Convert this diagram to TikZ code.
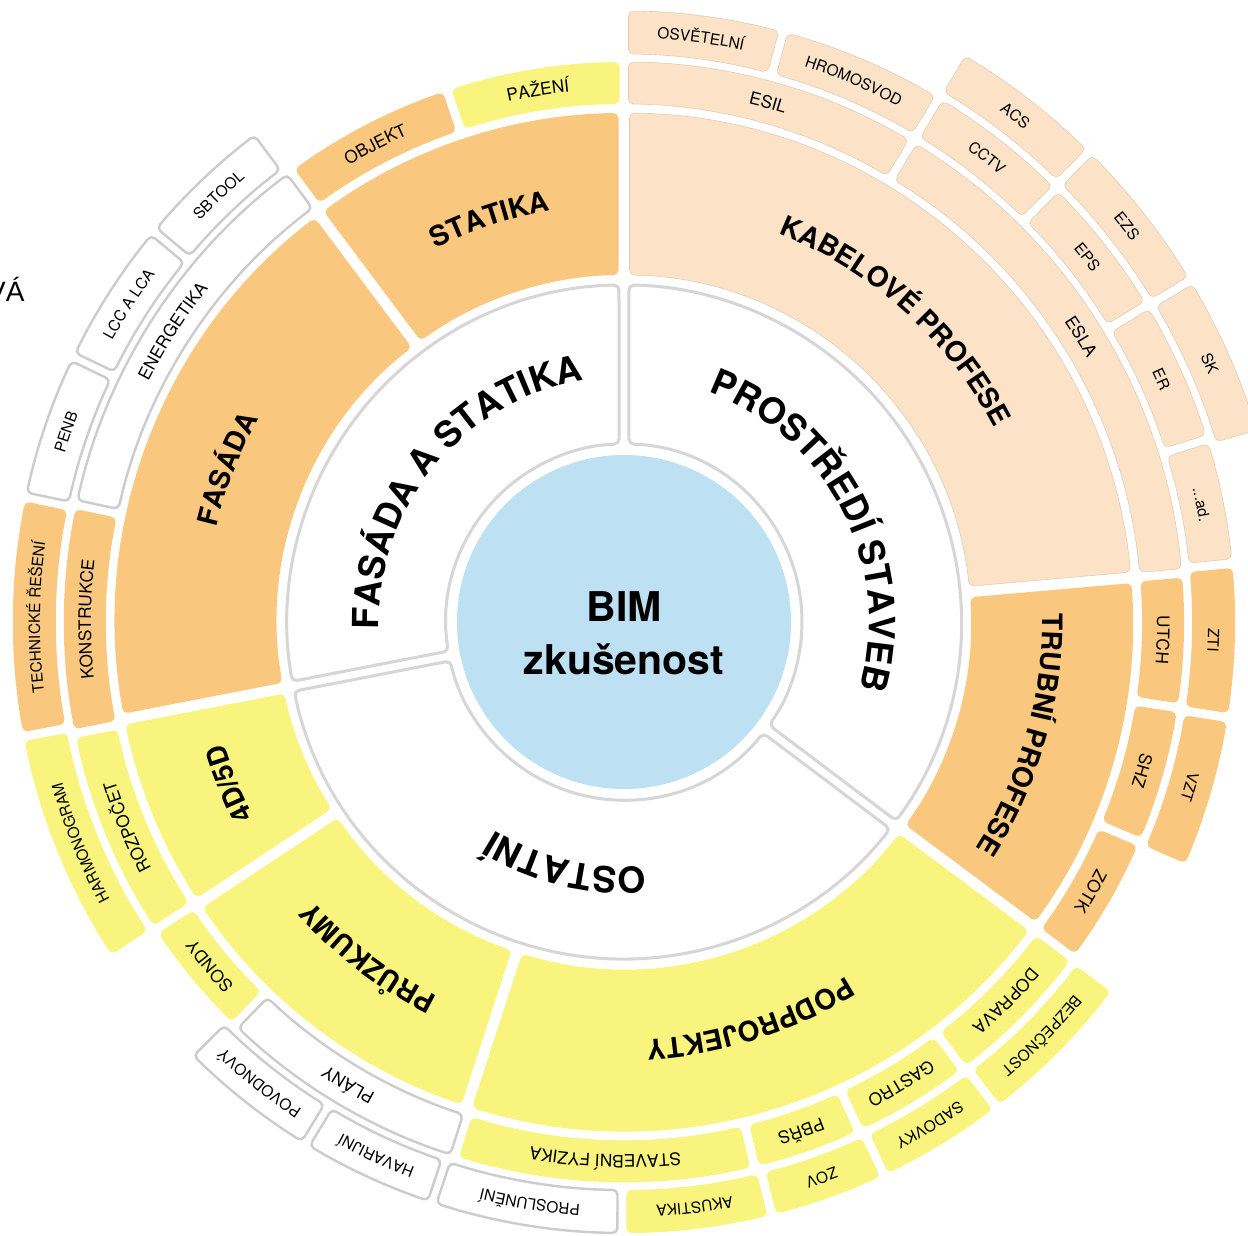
\documentclass[tikz,border=0pt]{standalone}
\usepackage{fontspec}
\setmainfont{TeX Gyre Heros}
\newfontfamily\vafont{Liberation Sans}
\usetikzlibrary{decorations.text}
\definecolor{cblue}{HTML}{BEE0F3}
\definecolor{corange}{HTML}{F9C77D}
\definecolor{cpeach}{HTML}{FCE3C8}
\definecolor{cyellow}{HTML}{F8F47E}
\newcommand\fBIM{\fontsize{20.5}{26}\selectfont\bfseries}
\newcommand\fRa{\fontsize{18}{20}\selectfont\bfseries}
\newcommand\fRb{\fontsize{14}{16}\selectfont\bfseries}
\newcommand\fRc{\fontsize{8.6}{10}\selectfont}
\newcommand\fRd{\fontsize{7.7}{9}\selectfont}
% sector: style, a1, a2, rin, rout, halfgap
\newcommand\sect[6]{%
  \pgfmathsetmacro\sAia{#2+asin(#6/#4)}%
  \pgfmathsetmacro\sAib{#3-asin(#6/#4)}%
  \pgfmathsetmacro\sAoa{#2+asin(#6/#5)}%
  \pgfmathsetmacro\sAob{#3-asin(#6/#5)}%
  \path[#1] (\sAoa:#5) arc[start angle=\sAoa, end angle=\sAob, radius=#5] -- (\sAib:#4) arc[start angle=\sAib, end angle=\sAia, radius=#4] -- cycle;}
% curved label: angle, baseline radius, font, text
\newcommand\clab[4]{%
  \pgfmathsetmacro\lA{#1+85}%
  \pgfmathsetmacro\lB{#1-85}%
  \path[decorate, decoration={text along path, text align=center, text={|#3|#4}}] (\lA:#2) arc[start angle=\lA, end angle=\lB, radius=#2];}
\begin{document}
\begin{tikzpicture}[x=0.5pt,y=0.5pt,
  sec/.style={rounded corners=2.5pt},
  rone/.style={sec, fill=white, draw=black!16, line width=1.5pt},
  orn/.style={sec, fill=corange},
  pch/.style={sec, fill=cpeach, draw=cpeach!90!black, line width=0.3pt},
  yel/.style={sec, fill=cyellow},
  wht/.style={sec, fill=white, draw=black!20, line width=1.2pt}]
\fill[white] (-624,-614) rectangle (624,622);
\useasboundingbox (-624,-614) rectangle (624,622);
% centre
\node[circle, fill=cblue, minimum size=167pt, inner sep=0pt] (bim) at (0,0) {};
\node[anchor=base, inner sep=0pt, font=\fBIM] (bimA) at (0,0) {BIM};
\node[anchor=base, inner sep=0pt, font=\fBIM] (bimB) at (0,-53) {zkušenost};
% ring 1
\sect{rone}{90}{191}{178}{337}{5}
\sect{rone}{-37}{90}{178}{337}{5}
\sect{rone}{191}{323}{178}{337}{5}
\clab{140.5}{245}{\fRa}{FASÁDA A STATIKA}
\clab{27}{245}{\fRa}{PROSTŘEDÍ STAVEB}
\clab{256.5}{245}{\fRa}{OSTATNÍ}
% ring 2
\sect{orn}{90}{126.8}{347}{509}{5.5}
\sect{orn}{126.8}{191}{347}{509}{5.5}
\sect{yel}{191}{213.5}{347}{509}{5.5}
\sect{yel}{213.5}{252}{347}{509}{5.5}
\sect{yel}{252}{323.3}{347}{509}{5.5}
\sect{orn}{-36.7}{5}{347}{509}{5.5}
\sect{pch}{5}{90}{347}{509}{5.5}
\clab{108.4}{418}{\fRb}{STATIKA}
\clab{158.9}{418}{\fRb}{FASÁDA}
\clab{202.3}{418}{\fRb}{4D/5D}
\clab{232.7}{418}{\fRb}{PRŮZKUMY}
\clab{287.6}{418}{\fRb}{PODPROJEKTY}
\clab{-15.8}{418}{\fRb}{TRUBNÍ PROFESE}
\clab{48}{418}{\fRb}{KABELOVÉ PROFESE}
% ring 3
\sect{pch}{59}{90}{518}{560}{4.5}
\sect{pch}{5}{59}{518}{560}{4.5}
\sect{orn}{-8.8}{5}{518}{560}{4.5}
\sect{orn}{-23.1}{-8.8}{518}{560}{4.5}
\sect{orn}{-36.8}{-23.1}{518}{560}{4.5}
\sect{yel}{307.2}{323.2}{518}{560}{4.5}
\sect{yel}{294.8}{307.2}{518}{560}{4.5}
\sect{yel}{283.5}{294.8}{518}{560}{4.5}
\sect{yel}{252.4}{283.5}{518}{560}{4.5}
\sect{wht}{226}{252.4}{518}{560}{4.5}
\sect{yel}{213.3}{226}{518}{560}{4.5}
\sect{yel}{191.5}{213.3}{518}{560}{4.5}
\sect{orn}{167.9}{191.5}{518}{560}{4.5}
\sect{wht}{126.5}{167.9}{518}{560}{4.5}
\sect{orn}{108.4}{126.5}{518}{560}{4.5}
\sect{yel}{90}{108.4}{518}{560}{4.5}
\clab{74.5}{533}{\fRc}{ESIL}
\clab{32}{533}{\fRc}{ESLA}
\clab{-1.9}{533}{\fRc}{UTCH}
\clab{-16}{533}{\fRc}{SHZ}
\clab{-30}{533}{\fRc}{ZOTK}
\clab{315.2}{533}{\fRc}{DOPRAVA}
\clab{301}{533}{\fRc}{GASTRO}
\clab{289.2}{533}{\fRc}{PBŘS}
\clab{268}{533}{\fRc}{STAVEBNÍ FYZIKA}
\clab{239.2}{533}{\fRc}{PLÁNY}
\clab{219.7}{533}{\fRc}{SONDY}
\clab{202.4}{533}{\fRc}{ROZPOČET}
\clab{179.7}{533}{\fRc}{KONSTRUKCE}
\clab{147.2}{533}{\fRc}{ENERGETIKA}
\clab{117.5}{533}{\fRc}{OBJEKT}
\clab{99.2}{533}{\fRc}{PAŽENÍ}
% ring 4
\sect{pch}{74.9}{90}{568}{611}{4.5}
\sect{pch}{59}{74.9}{568}{611}{4.5}
\sect{pch}{45.1}{59}{568}{611}{4.5}
\sect{pch}{31.2}{45.1}{568}{611}{4.5}
\sect{pch}{17.4}{31.2}{568}{611}{4.5}
\sect{pch}{5.5}{17.4}{568}{611}{4.5}
\sect{orn}{-9}{5.5}{568}{611}{4.5}
\sect{orn}{-23.7}{-9}{568}{611}{4.5}
\sect{yel}{307.5}{323.2}{568}{611}{4.5}
\sect{yel}{295.2}{307.5}{568}{611}{4.5}
\sect{yel}{284}{295.2}{568}{611}{4.5}
\sect{yel}{269.8}{284}{568}{611}{4.5}
\sect{wht}{251.7}{269.8}{568}{611}{4.5}
\sect{wht}{238.6}{251.7}{568}{611}{4.5}
\sect{wht}{224.8}{238.6}{568}{611}{4.5}
\sect{yel}{190.8}{213.4}{568}{611}{4.5}
\sect{orn}{168.2}{190.8}{568}{611}{4.5}
\sect{wht}{154.3}{168.2}{568}{611}{4.5}
\sect{wht}{140.3}{154.3}{568}{611}{4.5}
\sect{wht}{126.8}{140.3}{568}{611}{4.5}
\clab{82.5}{584}{\fRd}{OSVĚTELNÍ}
\clab{67}{584}{\fRd}{HROMOSVOD}
\clab{52}{584}{\fRd}{CCTV}
\clab{38.2}{584}{\fRd}{EPS}
\clab{24.3}{584}{\fRd}{ER}
\clab{11.5}{584}{\fRd}{...ad.}
\clab{-1.75}{584}{\fRd}{ZTI}
\clab{-16.3}{584}{\fRd}{VZT}
\clab{315.3}{584}{\fRd}{BEZPEČNOST}
\clab{301.3}{584}{\fRd}{SADOVKY}
\clab{289.6}{584}{\fRd}{ZOV}
\clab{276.9}{584}{\fRd}{AKUSTIKA}
\clab{260.8}{584}{\fRd}{PROSLUNĚNÍ}
\clab{245.1}{584}{\fRd}{HAVARIJNÍ}
\clab{231.7}{584}{\fRd}{POVODNOVÝ}
\clab{202.1}{584}{\fRd}{HARMONOGRAM}
\clab{179.5}{584}{\fRd}{TECHNICKÉ ŘEŠENÍ}
\clab{161.2}{584}{\fRd}{PENB}
\clab{147.3}{584}{\fRd}{LCC A LCA}
\clab{133.5}{584}{\fRd}{SBTOOL}
% ring 5
\sect{pch}{45.3}{59.3}{619}{661}{4.5}
\sect{pch}{31.1}{45.3}{619}{661}{4.5}
\sect{pch}{16.5}{31.1}{619}{661}{4.5}
\clab{52.3}{634.5}{\fRd}{ACS}
\clab{38.2}{634.5}{\fRd}{EZS}
\clab{23.8}{634.5}{\fRd}{SK}
% clipped text at left edge
\node[anchor=base east, inner sep=0pt, font=\vafont\fontsize{14}{16}\selectfont] (va) at (-599,320) {VÁ};
\end{tikzpicture}
\end{document}
